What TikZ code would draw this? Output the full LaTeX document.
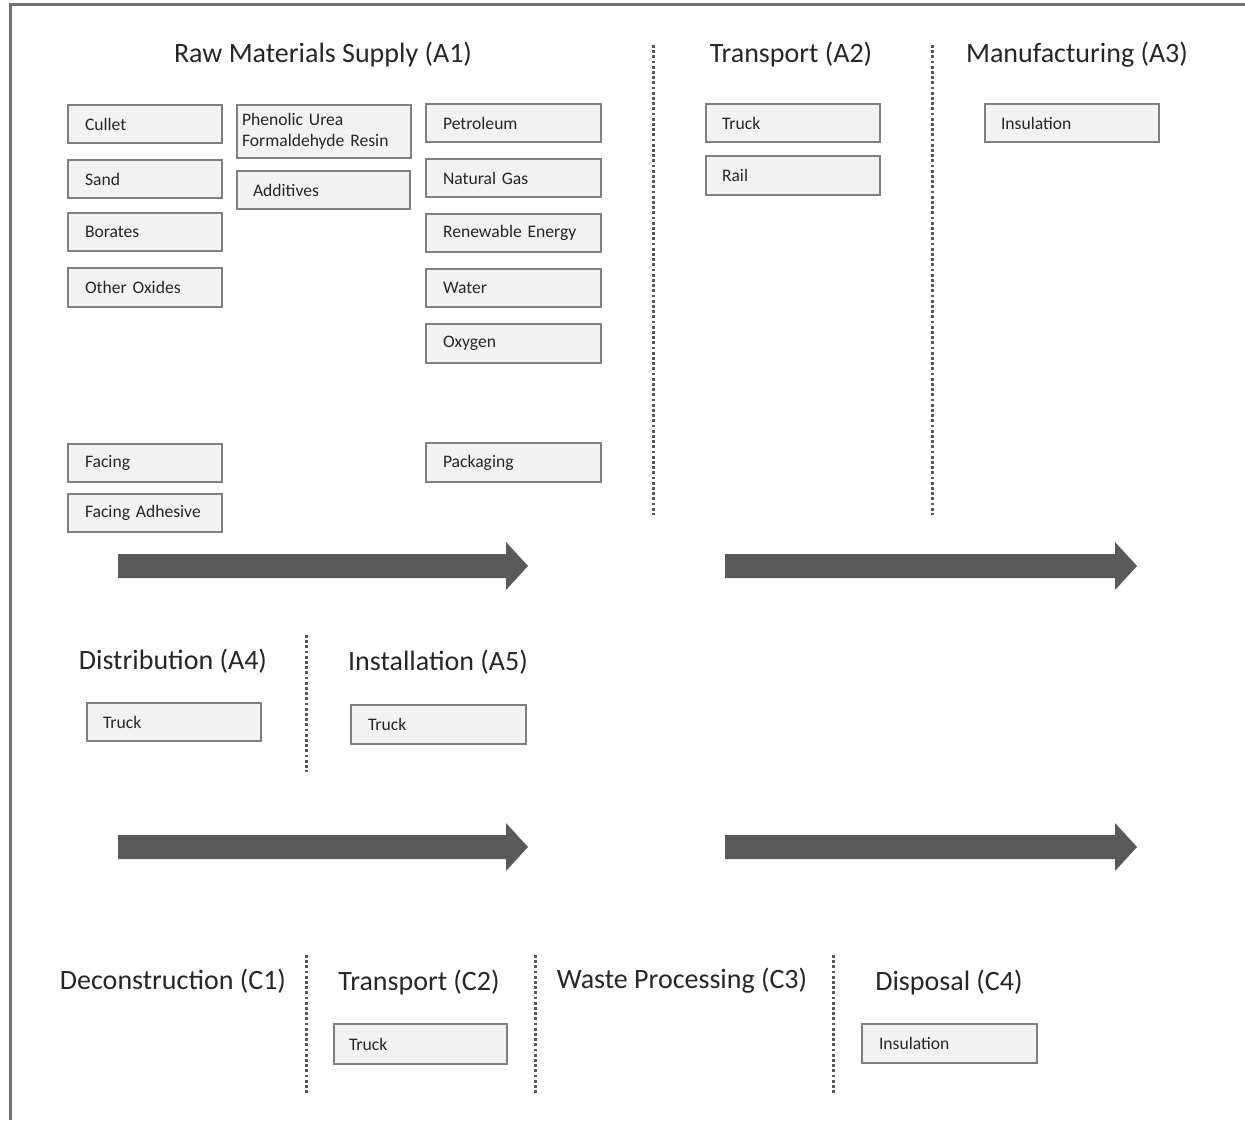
\documentclass[tikz,border=0pt]{standalone}
\usepackage{fontspec}
\setmainfont{Carlito}
\definecolor{boxfill}{HTML}{F2F2F2}
\definecolor{boxline}{HTML}{7F7F7F}
\definecolor{darkg}{HTML}{595959}
\definecolor{txt}{HTML}{262626}
\tikzset{
  box/.style={draw=boxline, line width=2pt, fill=boxfill, align=left, anchor=north west,
    font=\fontsize{17.6}{21.5}\selectfont, text=txt, inner ysep=0pt},
  title/.style={font=\fontsize{28}{32}\selectfont, text=txt, inner sep=0pt},
  divider/.style={draw=darkg, line width=3pt, dash pattern=on 2.7pt off 2.5pt},
  bigarrow/.style={fill=darkg, draw=none},
  frame/.style={draw=darkg!85, line width=3pt}
}
\newcommand\bx[7]{%
  \pgfmathsetmacro\tw{#4-2*#6}%
  \node[box, text width=\tw pt, inner xsep=#6pt, minimum height=#5pt] (#1) at (#2,-#3) {#7};}
\newcommand\rarrow[3]{% x1, x2 (tip), center y
  \pgfmathsetmacro\hb{#2-22}%
  \fill[bigarrow] (#1,-#3+12) -- (\hb,-#3+12) -- (\hb,-#3+24) -- (#2,-#3) -- (\hb,-#3-24) -- (\hb,-#3-12) -- (#1,-#3-12) -- cycle;}
\begin{document}
\begin{tikzpicture}[x=1pt,y=1pt]
\useasboundingbox (0,0) rectangle (1245,-1120);
% frame
\draw[frame] (10.5,-1120) -- (10.5,-4) -- (1245,-4);
% titles
\node[title] (tA1) at (323,-55) {Raw Materials Supply (A1)};
\node[title] (tA2) at (791,-55) {Transport (A2)};
\node[title] (tA3) at (1077,-55) {Manufacturing (A3)};
\node[title] (tA4) at (173,-661) {Distribution (A4)};
\node[title] (tA5) at (438,-662) {Installation (A5)};
\node[title] (tC1) at (173,-981) {Deconstruction (C1)};
\node[title] (tC2) at (419,-982) {Transport (C2)};
\node[title] (tC3) at (682,-981) {Waste Processing (C3)};
\node[title] (tC4) at (949,-982) {Disposal (C4)};
% dividers
\draw[divider] (653,-45) -- (653,-515);
\draw[divider] (932,-45) -- (932,-515);
\draw[divider] (306,-635) -- (306,-772);
\draw[divider] (306,-955) -- (306,-1093);
\draw[divider] (535,-955) -- (535,-1093);
\draw[divider] (833,-955) -- (833,-1093);
% A1 boxes
\bx{cullet}{67}{104}{154}{38}{17}{Cullet}
\bx{sand}{67}{159}{154}{38}{17}{Sand}
\bx{borates}{67}{212}{154}{38}{17}{Borates}
\bx{oxides}{67}{267}{154}{39}{17}{Other Oxides}
\bx{facing}{67}{443}{154}{38}{17}{Facing}
\bx{adhesive}{67}{493}{154}{38}{17}{Facing Adhesive}
\bx{resin}{236}{104}{174}{53}{5}{Phenolic Urea\\Formaldehyde Resin}
\bx{additives}{236}{170}{173}{38}{16}{Additives}
\bx{petroleum}{425}{103}{175}{38}{17}{Petroleum}
\bx{gas}{425}{158}{175}{38}{17}{Natural Gas}
\bx{renew}{425}{213}{175}{38}{17}{Renewable Energy}
\bx{water}{425}{268}{175}{38}{17}{Water}
\bx{oxygen}{425}{323}{175}{39}{17}{Oxygen}
\bx{packaging}{425}{442}{175}{39}{17}{Packaging}
% A2, A3
\bx{truckA2}{705}{103}{174}{38}{16}{Truck}
\bx{rail}{705}{155}{174}{39}{16}{Rail}
\bx{insA3}{984}{103}{174}{38}{16}{Insulation}
% A4, A5
\bx{truckA4}{86}{702}{174}{38}{16}{Truck}
\bx{truckA5}{350}{704}{175}{39}{17}{Truck}
% C2, C4
\bx{truckC2}{333}{1023}{173}{40}{15}{Truck}
\bx{insC4}{861}{1023}{175}{39}{17}{Insulation}
% arrows
\rarrow{118}{528}{566}
\rarrow{725}{1137}{566}
\rarrow{118}{528}{847}
\rarrow{725}{1137}{847}
\end{tikzpicture}
\end{document}
